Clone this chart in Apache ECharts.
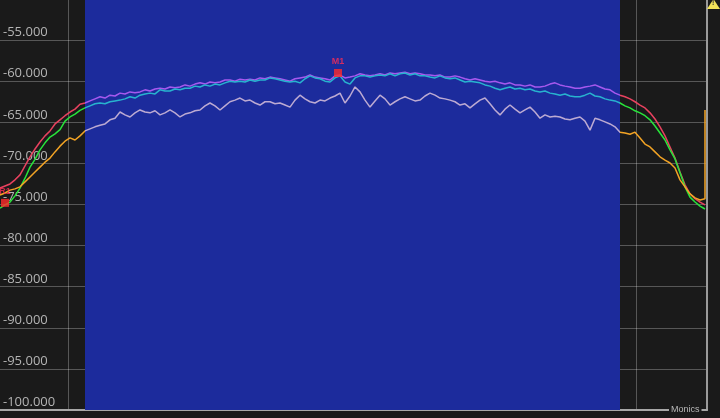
<!DOCTYPE html>
<html>
<head>
<meta charset="utf-8">
<script src="https://cdn.jsdelivr.net/npm/echarts@6/dist/echarts.min.js"></script>
<style>
html,body{margin:0;padding:0;background:#1a1a1a;overflow:hidden;}
#chart{position:absolute;left:-3px;top:-1px;width:723px;height:419px;}
</style>
</head>
<body>
<div id="chart"></div>
<script>
// sample grid (x in screen-like units, one sample every xStep)
const xStart = 3, xStep = 5;
// y axis
const yMin = -100, yMax = -50, yStep = 5;
// x axis range / division
const xMin = 0, xMax = 710, xDiv = 71;
// shaded (blue) span
const bandStart = 88, bandEnd = 623;

// trace A: red outside band, purple inside
const traceA = [
-73.0,-72.75,-72.5,-72.0,-71.4,-70.3,-69.2,-68.25,-67.4,-66.65,
-66.05,-65.2,-64.7,-64.2,-63.75,-63.4,-62.8,-62.65,-62.4,-62.15,
-61.9,-62.05,-61.7,-61.8,-61.45,-61.55,-61.3,-61.4,-61.3,-61.05,
-61.2,-60.95,-60.85,-60.95,-60.7,-60.8,-60.7,-60.45,-60.6,-60.35,
-60.2,-60.35,-60.1,-60.2,-60.1,-59.85,-59.85,-60.0,-59.75,-59.85,
-59.75,-59.85,-59.6,-59.7,-59.5,-59.6,-59.7,-59.85,-60.0,-59.7,
-59.6,-59.5,-59.25,-59.5,-59.6,-59.7,-59.85,-59.35,-59.25,-59.6,
-59.5,-59.35,-59.1,-59.25,-59.35,-59.25,-59.1,-59.25,-59.0,-59.1,
-59.0,-58.9,-59.1,-59.0,-59.1,-59.25,-59.25,-59.35,-59.25,-59.5,
-59.5,-59.35,-59.5,-59.7,-59.85,-59.7,-59.85,-60.0,-60.1,-60.0,
-60.2,-60.35,-60.2,-60.45,-60.45,-60.6,-60.45,-60.7,-60.7,-60.6,
-60.35,-60.2,-60.45,-60.6,-60.7,-60.85,-60.85,-60.7,-60.6,-60.45,
-60.7,-60.95,-61.05,-61.45,-61.7,-61.9,-62.15,-62.5,-62.9,-63.25,
-63.85,-64.6,-65.55,-66.65,-68.0,-69.35,-71.05,-72.6,-73.7,-74.3,
-74.7,-75.05
];
// trace B: green outside band, cyan inside
const traceB = [
-75.45,-75.05,-74.7,-73.95,-73.0,-71.8,-70.45,-69.5,-68.35,-67.5,
-66.8,-66.4,-65.9,-64.85,-64.35,-64.0,-63.55,-63.25,-63.0,-62.75,
-62.65,-62.75,-62.5,-62.4,-62.3,-62.15,-61.9,-62.05,-61.7,-61.55,
-61.45,-61.55,-61.05,-61.2,-61.2,-60.95,-61.05,-60.85,-60.85,-60.6,
-60.7,-60.45,-60.6,-60.35,-60.45,-60.2,-60.0,-60.1,-60.0,-60.1,
-59.85,-60.0,-59.85,-59.85,-59.6,-59.7,-59.85,-60.0,-60.1,-60.0,
-60.2,-59.7,-59.35,-59.6,-59.7,-60.0,-60.1,-59.6,-59.35,-60.1,
-60.35,-59.6,-59.35,-59.35,-59.5,-59.35,-59.25,-59.35,-59.1,-59.35,
-59.1,-59.0,-59.25,-59.1,-59.35,-59.35,-59.5,-59.6,-59.35,-59.6,
-59.7,-59.6,-59.85,-60.1,-60.0,-60.1,-60.2,-60.45,-60.6,-60.85,
-61.05,-60.85,-60.7,-60.95,-60.85,-61.05,-60.95,-61.2,-61.3,-61.2,
-61.45,-61.55,-61.7,-61.55,-61.8,-61.9,-61.9,-61.7,-61.45,-61.8,
-61.9,-62.15,-62.3,-62.4,-62.65,-63.0,-63.25,-63.6,-63.85,-64.2,
-64.7,-65.45,-66.3,-67.15,-68.35,-69.45,-71.15,-72.85,-74.1,-74.7,
-75.2,-75.55
];
// trace C: orange outside band, lavender inside
const traceC = [
-73.85,-73.6,-73.25,-73.1,-72.85,-72.25,-71.65,-71.05,-70.45,-69.85,
-69.35,-68.6,-67.9,-67.3,-66.9,-67.15,-66.65,-66.05,-65.8,-65.55,
-65.35,-65.2,-64.7,-64.5,-63.75,-64.1,-64.35,-63.85,-63.5,-63.75,
-63.85,-63.6,-64.1,-63.85,-63.5,-63.85,-64.35,-64.0,-63.85,-63.6,
-63.5,-63.0,-62.65,-63.0,-63.5,-63.0,-62.5,-62.3,-62.05,-62.4,
-62.3,-62.65,-62.9,-62.5,-62.5,-62.75,-62.65,-62.9,-63.15,-62.3,
-61.7,-62.15,-62.5,-62.65,-62.3,-62.4,-62.05,-61.8,-61.45,-62.65,
-61.8,-60.7,-61.3,-62.3,-63.15,-62.4,-61.7,-62.15,-62.9,-62.5,
-62.15,-61.9,-62.15,-62.4,-62.3,-61.8,-61.45,-61.7,-62.05,-62.15,
-62.3,-62.5,-62.9,-62.75,-63.25,-62.75,-62.3,-62.05,-62.75,-63.5,
-64.1,-63.4,-62.9,-63.4,-63.85,-63.5,-63.15,-63.75,-64.5,-64.1,
-64.35,-64.25,-64.35,-64.6,-64.7,-64.5,-64.35,-64.85,-65.95,-64.5,
-64.7,-64.95,-65.2,-65.55,-66.2,-66.3,-66.45,-66.2,-66.9,-67.65,
-68.0,-68.6,-69.2,-69.6,-69.95,-70.55,-72.0,-72.85,-73.7,-74.2,
-74.45,-74.3
];
const traceCTail = -63.5; // vertical jump at the right edge

// markers
const markerNames = ['M1', 'R1'];
const markerX = [341, 8];
const markerY = [-59.0, -74.8];

const colorsOut = ['#e8415e', '#27e33a', '#f2a324'];
const colorsIn  = ['#a658ee', '#27b3cf', '#bcaad2'];

function pairs(arr) { return arr.map((v, i) => [xStart + i * xStep, v]); }
const dataA = pairs(traceA);
const dataB = pairs(traceB);
const dataC = pairs(traceC);
dataC.push([xStart + (traceC.length - 1) * xStep, traceCTail]);

const chart = echarts.init(document.getElementById('chart'), null, {renderer: 'canvas'});

function vm(idx) {
  return {
    show: false, type: 'piecewise', seriesIndex: idx + 1, dimension: 0,
    pieces: [
      {lt: bandStart, color: colorsOut[idx]},
      {gte: bandStart, lte: bandEnd, color: colorsIn[idx]},
      {gt: bandEnd, color: colorsOut[idx]}
    ]
  };
}

function lineSeries(data) {
  return {
    type: 'line', data: data, symbol: 'none', showSymbol: false,
    lineStyle: {width: 1.5}, z: 3, animation: false
  };
}

chart.setOption({
  backgroundColor: '#1a1a1a',
  animation: false,
  grid: {left: 0, right: 13, top: 0, bottom: 8, containLabel: false},
  xAxis: {
    type: 'value', min: xMin, max: xMax, interval: xDiv,
    axisLine: {show: true, onZero: false, lineStyle: {color: '#a8a8a8', width: 2}},
    axisTick: {show: false}, axisLabel: {show: false},
    splitLine: {show: true, lineStyle: {color: 'rgba(255,255,255,0.27)', width: 1}}
  },
  yAxis: [{
    type: 'value', min: yMin, max: yMax, interval: yStep,
    axisLine: {show: false}, axisTick: {show: false},
    axisLabel: {
      inside: true, margin: 6, showMaxLabel: false,
      color: '#b4b4b4', fontSize: 13, fontFamily: 'Open Sans',
      verticalAlign: 'bottom', padding: [0, 0, 1, 0],
      formatter: v => v.toFixed(3)
    },
    splitLine: {show: true, lineStyle: {color: 'rgba(255,255,255,0.27)', width: 1}}
  }, {
    type: 'value', min: yMin, max: yMax, interval: yStep, position: 'right',
    axisLine: {show: true, lineStyle: {color: '#9a9a9a', width: 2}},
    axisTick: {show: false}, axisLabel: {show: false}, splitLine: {show: false}
  }],
  visualMap: [vm(0), vm(1), vm(2)],
  series: [
    {
      type: 'line', data: [[bandStart, yMin]], symbol: 'none', z: -1, silent: true,
      lineStyle: {opacity: 0},
      markArea: {
        silent: true,
        itemStyle: {color: '#1c2b9c'},
        data: [[{xAxis: bandStart, yAxis: yMin}, {xAxis: bandEnd, yAxis: yMax}]]
      }
    },
    lineSeries(dataA),
    lineSeries(dataB),
    lineSeries(dataC),
    {
      type: 'scatter', z: 5, symbol: 'rect', symbolSize: 8,
      itemStyle: {color: '#ff2b2b'},
      data: markerNames.map((n, i) => ({name: n, value: [markerX[i], markerY[i]]})),
      label: {
        show: true, position: 'top', distance: 3, formatter: p => p.name,
        color: '#ff2d55', fontSize: 9, fontWeight: 'bold', fontFamily: 'Liberation Sans'
      }
    }
  ],
  graphic: [
    {
      type: 'text', left: 672, top: 405, z: 10,
      style: {
        text: 'Monics', fill: '#b8b8b8', fontSize: 9, fontFamily: 'Liberation Sans',
        backgroundColor: '#1a1a1a', padding: [1, 2]
      }
    },
    {
      type: 'polygon', z: 10,
      shape: {points: [[710, 10], [716.5, 0], [723, 10]]},
      style: {fill: '#f3e35a'}
    },
    {
      type: 'text', left: 715, top: 1, z: 11,
      style: {text: '!', fill: '#333', fontSize: 7, fontWeight: 'bold', fontFamily: 'Liberation Sans'}
    }
  ]
});
</script>
</body>
</html>
